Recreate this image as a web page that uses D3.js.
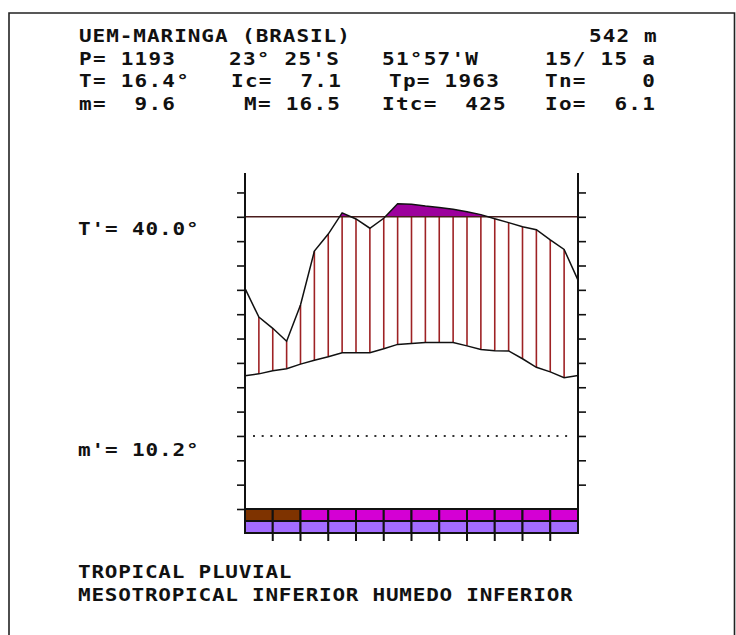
<!DOCTYPE html>
<html>
<head>
<meta charset="utf-8">
<script src="https://cdn.jsdelivr.net/npm/d3@7"></script>
<style>
  body { margin: 0; background: #fff; }
  svg { display: block; }
</style>
</head>
<body>
<div id="chart"></div>
<script>
// station header
var title = "UEM-MARINGA (BRASIL)";
var altitude = "542 m";
var statsRows = [
  ["P= 1193", "23° 25'S", "51°57'W", "15/ 15 a"],
  ["T= 16.4°", "Ic=  7.1", "Tp= 1963", "Tn=    0"],
  ["m=  9.6", "M= 16.5", "Itc=  425", "Io=  6.1"]
];
var bioclimate = ["TROPICAL PLUVIAL", "MESOTROPICAL INFERIOR HUMEDO INFERIOR"];

// reference levels (diagram units)
var tMaxLabel = "T'= 40.0°", tMaxLevel = 120;
var mMinLabel = "m'= 10.2°", mMinLevel = 30;

// months, southern hemisphere (Jul -> Jun)
var months = ["Jul", "Ago", "Sep", "Oct", "Nov", "Dic", "Ene", "Feb", "Mar", "Abr", "May", "Jun"];
// half-month points, 0..24
var precip = [90.6, 78.8, 74.2, 68.9, 83.8, 105.9, 112.9, 121.6, 119.1, 115.3, 119.4, 125.4, 125.2,
              124.4, 123.8, 123.1, 122.1, 120.9, 119.2, 117.6, 115.9, 114.7, 110.5, 106.6, 94.0];
var temp = [54.7, 55.5, 56.8, 57.6, 59.5, 61.1, 62.5, 64.2, 64.2, 64.2, 65.8, 67.6, 68.0,
            68.4, 68.4, 68.4, 67.0, 65.5, 65.0, 64.9, 61.7, 58.2, 56.3, 53.9, 54.8];
// month bands: upper row dry / wet, lower row thermic
var upperBand = ["seco", "seco", "humedo", "humedo", "humedo", "humedo", "humedo", "humedo", "humedo", "humedo", "humedo", "humedo"];
var lowerBand = ["calido", "calido", "calido", "calido", "calido", "calido", "calido", "calido", "calido", "calido", "calido", "calido"];
var yTicks = d3.range(0, 140, 10);

var width = 736, height = 635;
var bandColor = { seco: "#7e3300", humedo: "#d400d4", calido: "#a46cff" };

var svg = d3.select("#chart").append("svg")
  .attr("width", width)
  .attr("height", height);

// frame
svg.append("path")
  .attr("d", "M9,635 L9,13 L734.5,13 L734.5,635")
  .attr("fill", "none")
  .attr("stroke", "#222")
  .attr("stroke-width", 1.6);

var x = d3.scaleLinear().domain([0, 24]).range([245, 578]);
var y = d3.scaleLinear().domain([0, 140]).range([509, 168.1]);
var xm = d3.scaleBand().domain(months).range([245, 578]);

var idx = d3.range(precip.length);

// text: wide bold mono, stretched like the old bitmap font
var fs = 17.5, sx = 1.2;
function label(str, px, py, adv) {
  return svg.append("text")
    .attr("transform", "translate(" + px + "," + py + ") scale(" + sx + ",1)")
    .attr("font-family", "'DejaVu Sans Mono', 'Liberation Mono', monospace")
    .attr("font-weight", "bold")
    .attr("font-size", fs)
    .attr("letter-spacing", (adv / sx - 0.602 * fs) + "px")
    .attr("fill", "#111")
    .attr("xml:space", "preserve")
    .style("white-space", "pre")
    .text(str);
}

label(title, 79, 42, 13.6);
label(altitude, 589, 42, 13.75);
var colX = [[79, 229, 382, 545], [79, 231, 389, 545], [79, 244, 382, 545]];
var rowY = [64.5, 87, 109.5];
statsRows.forEach(function (row, r) {
  row.forEach(function (s, c) {
    label(s, colX[r][c], rowY[r], 13.9);
  });
});
bioclimate.forEach(function (s, i) {
  label(s, 78, 577.5 + i * 23, 13.4);
});
label(tMaxLabel, 78, y(tMaxLevel) + 18.5, 13.5);
label(mMinLabel, 78, y(mMinLevel) + 20, 13.5);

// purple fill where precipitation is above the T' line
svg.append("clipPath").attr("id", "above")
  .append("rect")
  .attr("x", x(0)).attr("y", 0)
  .attr("width", x(24) - x(0)).attr("height", y(tMaxLevel));

svg.append("path")
  .datum(idx)
  .attr("clip-path", "url(#above)")
  .attr("fill", "#9c009c")
  .attr("d", d3.area()
    .x(function (i) { return x(i); })
    .y0(y(tMaxLevel))
    .y1(function (i) { return y(precip[i]); }));

// hatching between curves
svg.append("g").selectAll("line")
  .data(idx.slice(1))
  .enter().append("line")
  .attr("x1", function (i) { return x(i); })
  .attr("x2", function (i) { return x(i); })
  .attr("y1", function (i) { return y(Math.min(precip[i], tMaxLevel)); })
  .attr("y2", function (i) { return y(temp[i]); })
  .attr("stroke", "#9e2224")
  .attr("stroke-width", 1.6);

// T' line
svg.append("line")
  .attr("x1", x(0)).attr("x2", x(24))
  .attr("y1", y(tMaxLevel)).attr("y2", y(tMaxLevel))
  .attr("stroke", "#4a1c1c")
  .attr("stroke-width", 1.5);

// m' dotted line
svg.append("line")
  .attr("x1", 253).attr("x2", 570)
  .attr("y1", y(mMinLevel)).attr("y2", y(mMinLevel))
  .attr("stroke", "#333")
  .attr("stroke-width", 2)
  .attr("stroke-dasharray", "2,6.67");

// curves
var line = d3.line().x(function (i) { return x(i); });
svg.append("path")
  .datum(idx)
  .attr("fill", "none")
  .attr("stroke", "#111")
  .attr("stroke-width", 1.5)
  .attr("d", line.y(function (i) { return y(precip[i]); }));
svg.append("path")
  .datum(idx)
  .attr("fill", "none")
  .attr("stroke", "#111")
  .attr("stroke-width", 1.5)
  .attr("d", line.y(function (i) { return y(temp[i]); }));

// month bands
var bandTop = y(0), bandH = 12;
svg.append("g").selectAll("rect")
  .data(months)
  .enter().append("rect")
  .attr("x", function (d) { return xm(d); })
  .attr("y", bandTop)
  .attr("width", xm.bandwidth())
  .attr("height", bandH)
  .attr("fill", function (d, i) { return bandColor[upperBand[i]]; })
  .attr("stroke", "#111")
  .attr("stroke-width", 2);
svg.append("g").selectAll("rect")
  .data(months)
  .enter().append("rect")
  .attr("x", function (d) { return xm(d); })
  .attr("y", bandTop + bandH)
  .attr("width", xm.bandwidth())
  .attr("height", bandH)
  .attr("fill", function (d, i) { return bandColor[lowerBand[i]]; })
  .attr("stroke", "#111")
  .attr("stroke-width", 2);
// month ticks under the bands
svg.append("g").selectAll("line")
  .data(months.slice(1))
  .enter().append("line")
  .attr("x1", function (d) { return xm(d); })
  .attr("x2", function (d) { return xm(d); })
  .attr("y1", bandTop + 2 * bandH)
  .attr("y2", bandTop + 2 * bandH + 8)
  .attr("stroke", "#111")
  .attr("stroke-width", 2);

// y axes (ticks only, no labels)
var axL = svg.append("g")
  .attr("transform", "translate(" + x(0) + ",0)")
  .call(d3.axisLeft(y).tickValues(yTicks).tickSize(8).tickFormat(""));
var axR = svg.append("g")
  .attr("transform", "translate(" + x(24) + ",0)")
  .call(d3.axisRight(y).tickValues(yTicks.slice(1)).tickSize(8).tickFormat(""));
[axL, axR].forEach(function (a) {
  a.select(".domain").remove();
  a.selectAll("line").attr("stroke", "#111").attr("stroke-width", 1.6);
});

[x(0), x(24)].forEach(function (px) {
  svg.append("line")
    .attr("x1", px).attr("x2", px)
    .attr("y1", y(138)).attr("y2", bandTop + 2 * bandH)
    .attr("stroke", "#111")
    .attr("stroke-width", 2);
});
</script>
</body>
</html>
